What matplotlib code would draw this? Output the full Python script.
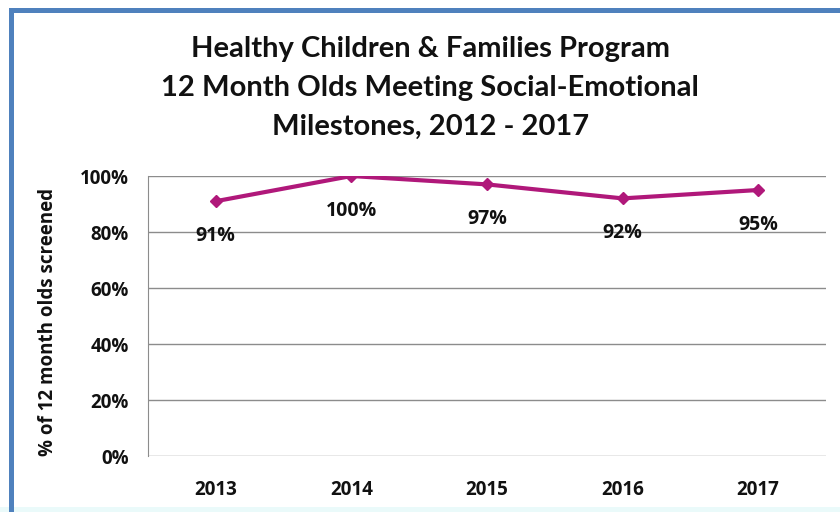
import matplotlib.pyplot as plt
from matplotlib.patches import Rectangle

years = ["2013", "2014", "2015", "2016", "2017"]
pct = [91, 100, 97, 92, 95]
pct_labels = ["91%", "100%", "97%", "92%", "95%"]
yticks = [0, 20, 40, 60, 80, 100]

plt.rcParams['font.family'] = ['Open Sans', 'DejaVu Sans']
title_font = ['Lato', 'DejaVu Sans']

fig = plt.figure(figsize=(8.4, 5.12), dpi=100)
fig.patch.set_facecolor("white")

# frame round the chart (left and top edges visible)
fig.patches.append(Rectangle((0, 0), 1, 5 / 512, transform=fig.transFigure,
                             facecolor="#eafafa", edgecolor="none", zorder=0))
fig.patches.append(Rectangle((10.5 / 840, -0.2), 1.2, 1.2 - 9.5 / 512 + 0.0,
                             transform=fig.transFigure, fill=False,
                             edgecolor="#4f81bd", linewidth=3.6, zorder=1))

ax = fig.add_axes([148 / 840, 56 / 512, 678 / 840, 280 / 512])
x = range(len(years))
ax.plot(x, pct, color="#b0187a", linewidth=3, marker="D", markersize=6, zorder=3)
for i, v in enumerate(pct):
    ax.annotate(pct_labels[i], (i, v), xytext=(0, -25), textcoords="offset points",
                ha="center", va="center", fontsize=14, fontweight="bold", color="#111111")

ax.set_xlim(-0.5, len(years) - 0.5)
ax.set_ylim(0, 100)
ax.set_yticks(yticks)
ax.set_yticklabels([f"{t}%" for t in yticks])
ax.set_xticks(list(x))
ax.set_xticklabels(years)
ax.grid(axis="y", color="#8c8c8c", linewidth=1)
ax.set_axisbelow(True)
for s in ["top", "right", "bottom"]:
    ax.spines[s].set_visible(False)
ax.spines["left"].set_color("#8c8c8c")
ax.tick_params(axis="both", length=0, labelsize=13.5, colors="#111111")
ax.tick_params(axis="x", pad=17)
ax.tick_params(axis="y", pad=14)
for lab in ax.get_xticklabels() + ax.get_yticklabels():
    lab.set_fontweight("bold")
ax.set_ylabel("% of 12 month olds screened", fontsize=13.5, fontweight="bold", color="#111111")
ax.yaxis.set_label_coords(-0.133, 0.48)

fig.text(0.512, 0.828, "Healthy Children & Families Program\n12 Month Olds Meeting Social-Emotional\nMilestones, 2012 - 2017",
         ha="center", va="center", fontsize=21, fontweight="bold", linespacing=1.62,
         color="#111111", family=title_font)

fig.savefig("out.png", dpi=100)
